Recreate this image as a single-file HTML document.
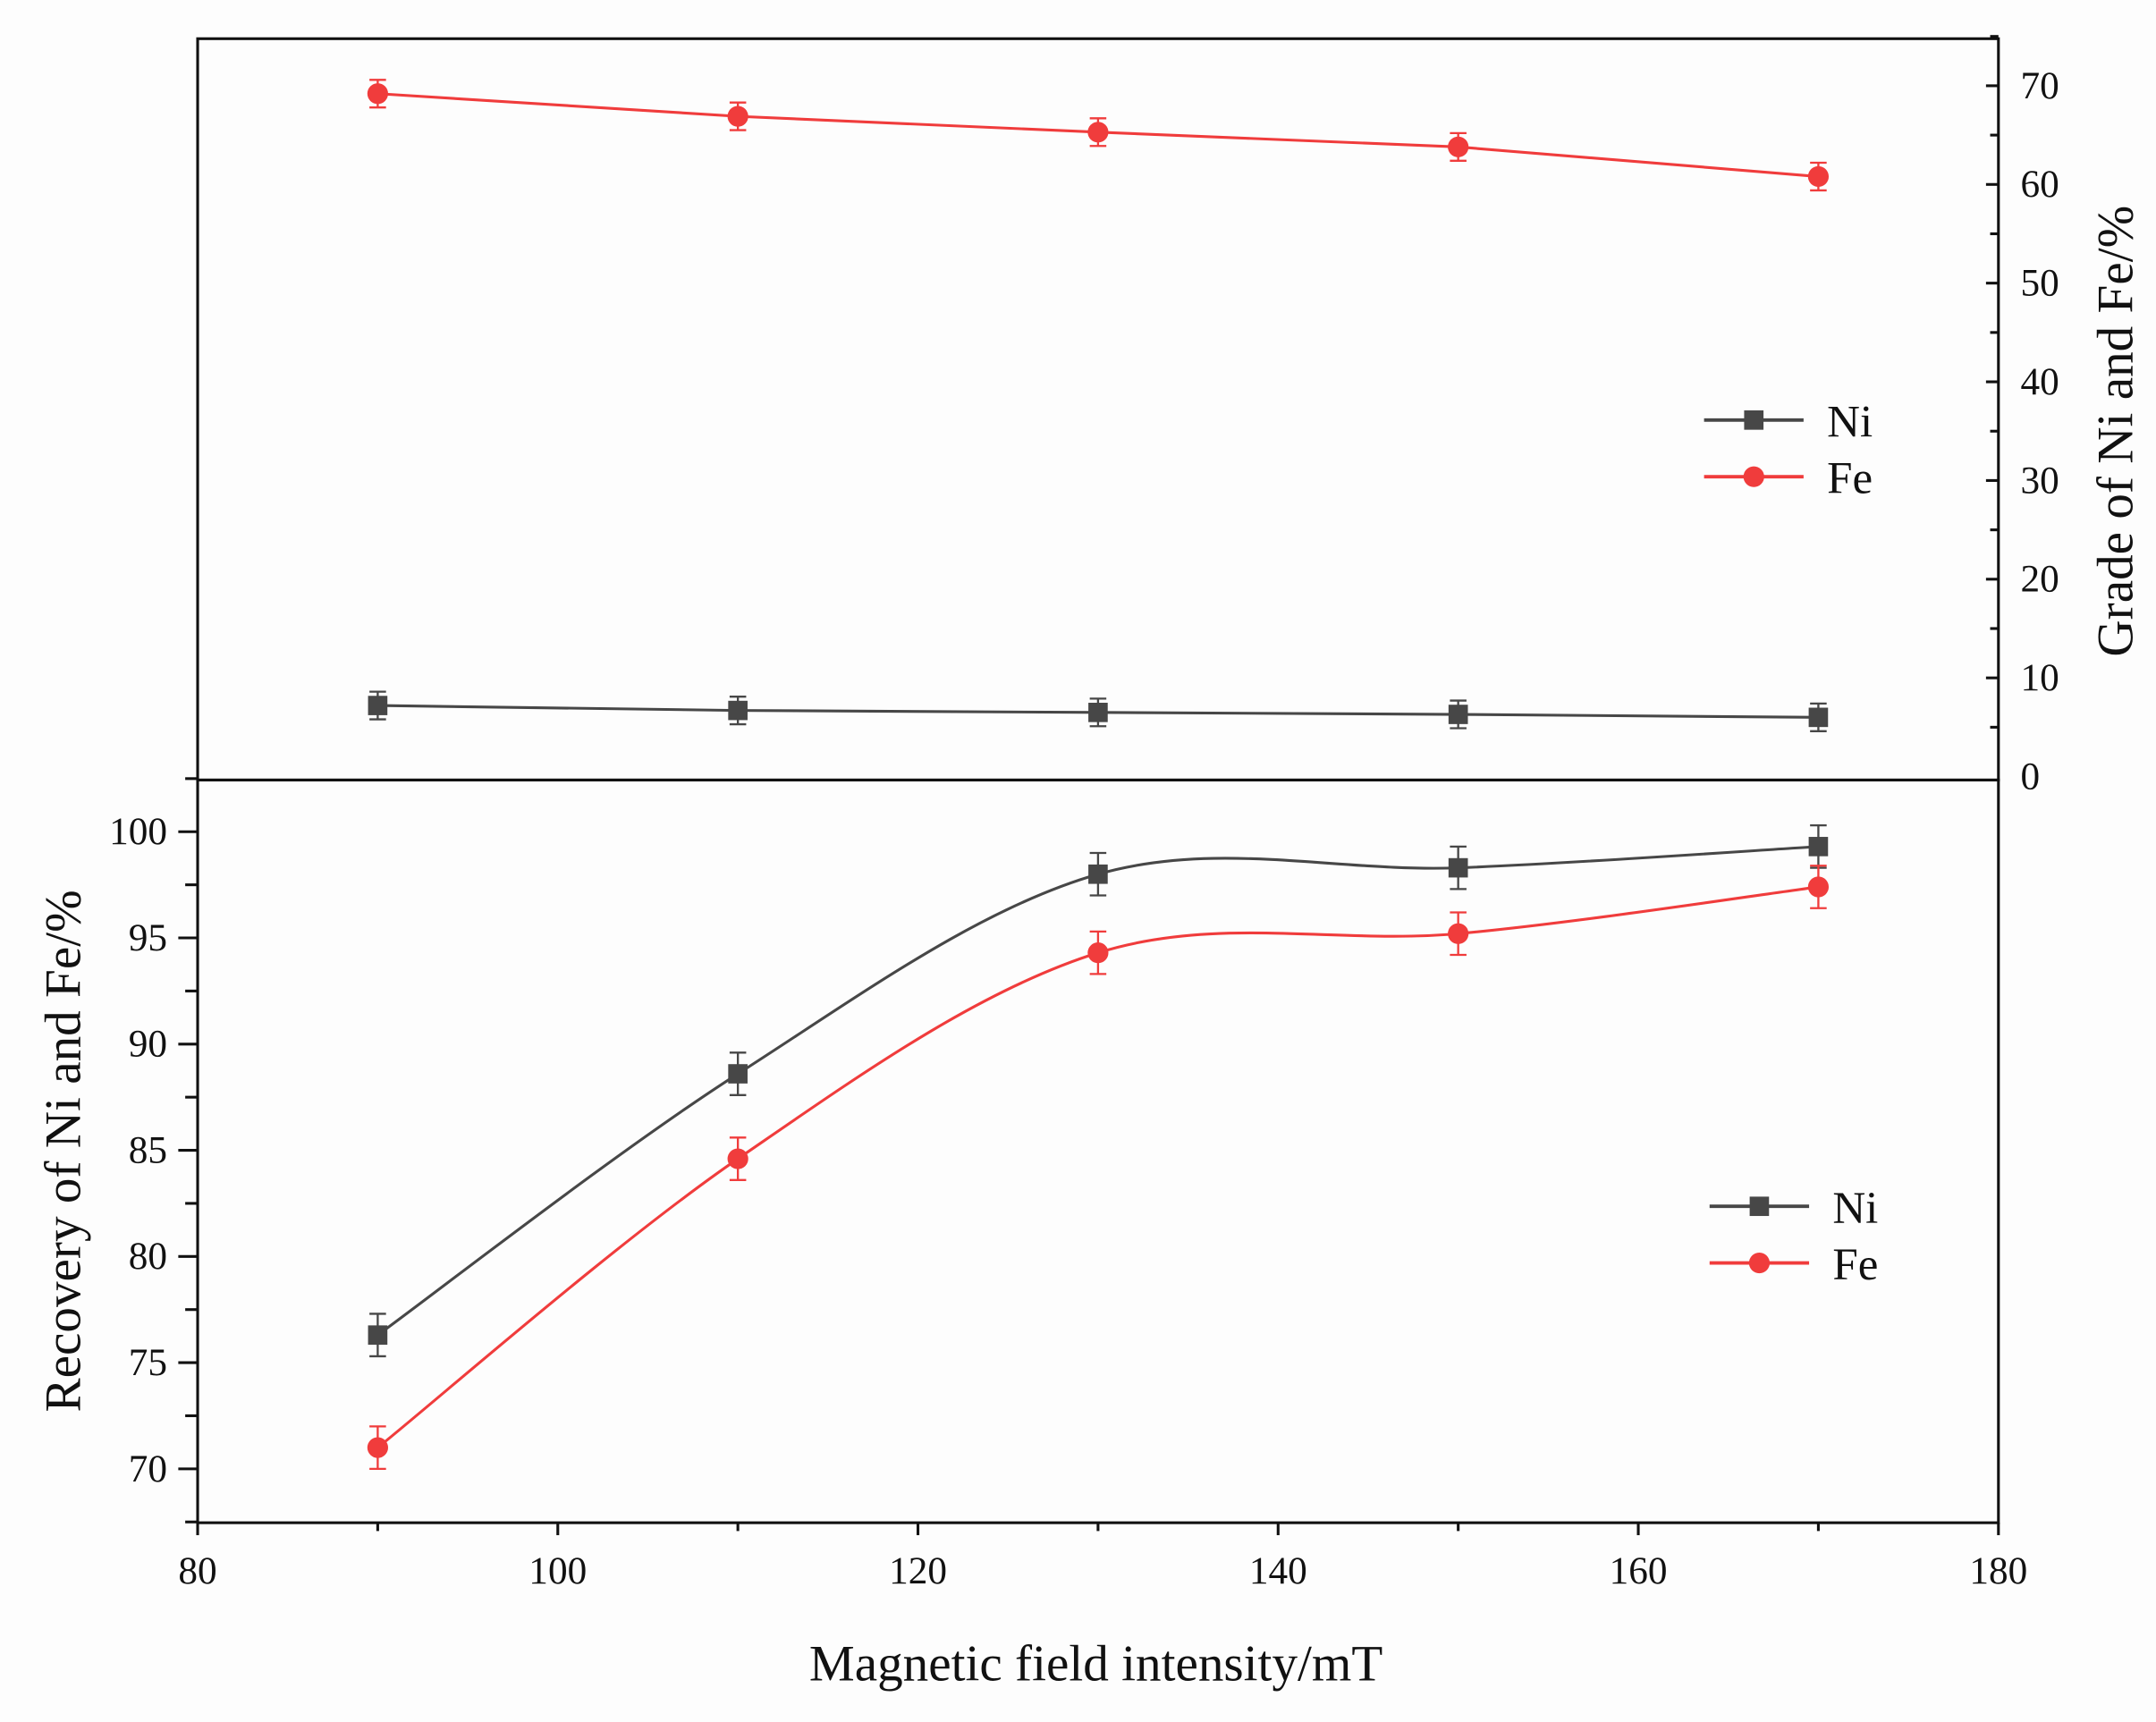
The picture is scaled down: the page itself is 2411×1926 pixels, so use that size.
<!DOCTYPE html>
<html><head><meta charset="utf-8"><style>
html,body{margin:0;padding:0;background:#fff;}
svg{display:block;}
text{font-family:"Liberation Serif",serif;fill:#111;}
</style></head><body>
<svg id="chart" xmlns="http://www.w3.org/2000/svg" width="2411" height="1926" viewBox="0 0 1560 1246.2">
<rect x="0" y="0" width="1560" height="1246.2" fill="#fdfdfd"/>
<g id="g"></g>
</svg>
<script>
const xValues=[90,110,130,150,170];
const gradeNi=[7.2,6.7,6.5,6.3,6.0];
const gradeFe=[69.2,66.9,65.3,63.8,60.8];
const gradeErr=[1.4,1.4,1.4,1.4,1.4];
const recNi=[76.3,88.6,98.0,98.3,99.3];
const recFe=[71.0,84.6,94.3,95.2,97.4];
const recErr=[1.0,1.0,1.0,1.0,1.0];
const xTicks=[80,100,120,140,160,180];
const gradeTicks=[0,10,20,30,40,50,60,70];
const recTicks=[70,75,80,85,90,95,100];

const NS="http://www.w3.org/2000/svg";
const g=document.getElementById('g');
function el(tag,attrs,parent){const e=document.createElementNS(NS,tag);for(const k in attrs)e.setAttribute(k,attrs[k]);(parent||g).appendChild(e);return e;}
const X=v=>143+(v-80)*13.03;
const YG=v=>562-v*7.142;
const YR=v=>1063-(v-70)*15.37;
const L=143,R=1446,T=28,M=564.5,B=1102;
const BLK="#474747",RED="#f03c3c";

let e;
e=el('rect',{x:L,y:T,width:R-L,height:M-T,fill:'none',stroke:'#111','stroke-width':2});

e=el('rect',{x:L,y:M,width:R-L,height:B-M,fill:'none',stroke:'#111','stroke-width':2});


for(let v=80;v<=180;v+=10){const major=(v%20===0);
 e=el('line',{x1:X(v),x2:X(v),y1:B,y2:B+(major?9:6),stroke:'#111','stroke-width':2});
 }
xTicks.forEach(v=>{e=el('text',{x:X(v),y:B+44,'text-anchor':'middle','font-size':28});e.textContent=v;
 });
for(let v=5;v<=75;v+=5){const major=(v%10===0);
 e=el('line',{x1:R,x2:R-(major?9:6),y1:YG(v),y2:YG(v),stroke:'#111','stroke-width':2});
 }
gradeTicks.forEach(v=>{e=el('text',{x:R+16,y:YG(v)+9,'font-size':28});e.textContent=v;
 });
for(let v=67.5;v<=102.5;v+=2.5){const major=(v%5===0);
 e=el('line',{x1:L,x2:L-(major?14:9),y1:YR(v),y2:YR(v),stroke:'#111','stroke-width':2});
 }
recTicks.forEach(v=>{e=el('text',{x:L-22,y:YR(v)+9,'text-anchor':'end','font-size':28});e.textContent=v;
 });

e=el('text',{x:793,y:1216,'text-anchor':'middle','font-size':37});e.textContent='Magnetic field intensity/mT';

e=el('text',{x:0,y:0,'text-anchor':'middle','font-size':37,transform:'translate(1543,312) rotate(-90)'});e.textContent='Grade of Ni and Fe/%';

e=el('text',{x:0,y:0,'text-anchor':'middle','font-size':37,transform:'translate(58,833) rotate(-90)'});e.textContent='Recovery of Ni and Fe/%';


function smooth(pts){let d=`M${pts[0][0]},${pts[0][1]}`;
 for(let i=0;i<pts.length-1;i++){const p0=pts[Math.max(0,i-1)],p1=pts[i],p2=pts[i+1],p3=pts[Math.min(pts.length-1,i+2)];
  const c1=[p1[0]+(p2[0]-p0[0])/6,p1[1]+(p2[1]-p0[1])/6],c2=[p2[0]-(p3[0]-p1[0])/6,p2[1]-(p3[1]-p1[1])/6];
  d+=` C${c1[0]},${c1[1]} ${c2[0]},${c2[1]} ${p2[0]},${p2[1]}`;}return d;}

function series(vals,err,Y,color,shape,name,curve){
 const pts=xValues.map((x,i)=>[X(x),Y(vals[i])]);
 const d=curve?smooth(pts):'M'+pts.map(p=>p.join(',')).join(' L');
 let p=el('path',{d:d,fill:'none',stroke:color,'stroke-width':2});
 
 xValues.forEach((x,i)=>{const cx=X(x),hi=Y(vals[i]+err[i]),lo=Y(vals[i]-err[i]);
  let b=el('path',{d:`M${cx},${hi} V${lo} M${cx-6},${hi} H${cx+6} M${cx-6},${lo} H${cx+6}`,stroke:color,'stroke-width':1.5,fill:'none'});
  
  let m;
  if(shape==='sq')m=el('rect',{x:cx-7,y:Y(vals[i])-7,width:14,height:14,fill:color});
  else m=el('circle',{cx:cx,cy:Y(vals[i]),r:7.5,fill:color});
  
 });
}
series(gradeFe,gradeErr,YG,RED,'c','grade-fe',false);
series(gradeNi,gradeErr,YG,BLK,'sq','grade-ni',false);
series(recNi,recErr,YR,BLK,'sq','recovery-ni',true);
series(recFe,recErr,YR,RED,'c','recovery-fe',true);

function legend(x,y,name){
 [['Ni',BLK,'sq'],['Fe',RED,'c']].forEach((it,i)=>{const yy=y+i*41;
  let l=el('line',{x1:x,x2:x+72,y1:yy,y2:yy,stroke:it[1],'stroke-width':2.5});
  
  let m=it[2]==='sq'?el('rect',{x:x+29,y:yy-7,width:14,height:14,fill:it[1]}):el('circle',{cx:x+36,cy:yy,r:7.5,fill:it[1]});
  
  let t=el('text',{x:x+89,y:yy+12,'font-size':33});t.textContent=it[0];
  
 });
}
legend(1233,304,'grade-legend');
legend(1237,873,'recovery-legend');
</script>
</body></html>
